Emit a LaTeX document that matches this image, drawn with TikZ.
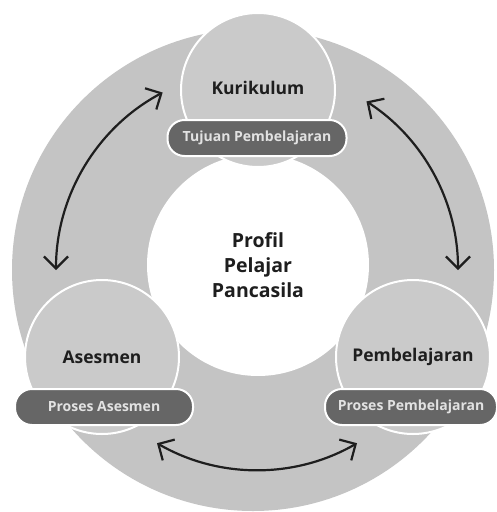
\documentclass[tikz,border=0pt]{standalone}
\usepackage{fontspec}
\setmainfont{Open Sans}
\usetikzlibrary{arrows.meta}
\definecolor{ringgray}{HTML}{C4C4C4}
\definecolor{circgray}{HTML}{CACACA}
\definecolor{pillgray}{HTML}{666666}
\definecolor{pilltext}{HTML}{E2E2E2}
\definecolor{ink}{HTML}{1E1E1E}
\tikzset{
  bubble/.style={circle, fill=circgray, draw=white, line width=2pt, minimum size=154pt, inner sep=0pt},
  pill/.style={rounded corners=17pt, fill=pillgray, draw=white, line width=2pt, minimum height=36pt, inner sep=0pt, text=pilltext, font=\fontsize{14}{16}\selectfont\bfseries},
  bubtext/.style={text=ink, font=\fontsize{17.5}{20}\selectfont\bfseries},
  arr/.style={draw=ink, line width=2.2pt, {Straight Barb[length=12pt,width=24pt,line width=2.2pt]}-{Straight Barb[length=12pt,width=24pt,line width=2.2pt]}}
}
\begin{document}
\begin{tikzpicture}[x=1pt,y=-1pt]
\useasboundingbox (0,0) rectangle (496,512);
\fill[white] (0,0) rectangle (496,512);
% outer ring
\node[circle, fill=ringgray, minimum size=482pt, inner sep=0pt] (ring) at (253,270) {};
% inner white disk
\node[circle, fill=white, minimum size=222pt, inner sep=0pt, align=center, text=ink, font=\fontsize{19.5}{25}\selectfont\bfseries] (center) at (258,265) {Profil\\Pelajar\\Pancasila};
% bubbles
\node[bubble] (kur) at (258,90) {};
\node[bubble] (ase) at (102,357) {};
\node[bubble] (pem) at (413,357) {};
\node[bubtext] at (258,88) {Kurikulum};
\node[bubtext] at (102,357) {Asesmen};
\node[bubtext] at (413,357) {Pembelajaran};
% pills
\node[pill, minimum width=179pt] (tuj) at (257,138) {Tujuan Pembelajaran};
\node[pill, minimum width=178pt] (pas) at (104,407) {Proses Asesmen};
\node[pill, minimum width=172pt] (ppm) at (411,407) {Proses Pembelajaran};
% arrows
\coordinate (C) at (257,270);
\coordinate (a1) at ([shift={(242:201)}]C);
\draw[arr] (a1) arc[start angle=242, end angle=180, radius=201];
\coordinate (a2) at ([shift={(-57:201)}]C);
\draw[arr] (a2) arc[start angle=-57, end angle=0, radius=201];
\coordinate (a3) at ([shift={(120:200)}]C);
\draw[arr] (a3) arc[start angle=120, end angle=60, radius=200];
\end{tikzpicture}
\end{document}
